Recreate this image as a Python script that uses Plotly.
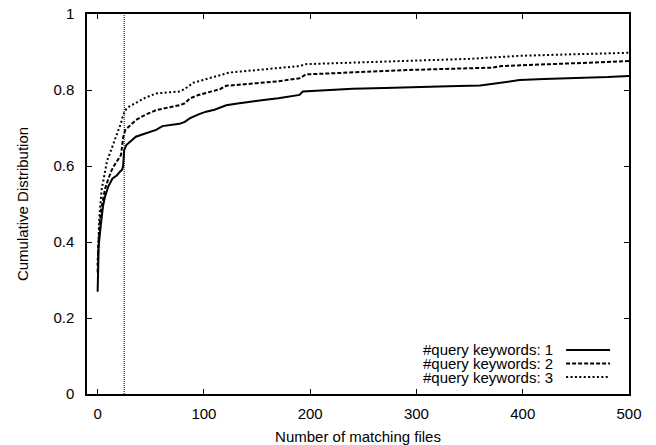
import plotly.graph_objects as go

# ---- data ----
series_names = ["#query keywords: 1", "#query keywords: 2", "#query keywords: 3"]

kw1_x = [0, 0.5, 1, 2.5, 5, 7, 10, 14, 18, 21, 23, 24, 25, 27, 30, 36, 42, 49, 55, 61,
         70, 77, 82, 87, 95, 102, 110, 115, 121, 130, 140, 150, 160, 170, 180, 190, 193, 200, 220, 240,
         270, 297, 330, 360, 372, 385, 397, 420, 450, 480, 500]
kw1_y = [0.269, 0.35, 0.39, 0.432, 0.493, 0.52, 0.546, 0.567, 0.575, 0.585,
         0.59, 0.60, 0.642, 0.655, 0.662, 0.677, 0.683, 0.690, 0.695, 0.705,
         0.708, 0.711, 0.716, 0.726, 0.736, 0.743, 0.748, 0.754, 0.760, 0.764,
         0.768, 0.772, 0.775, 0.778, 0.782, 0.787, 0.796, 0.797, 0.799, 0.803,
         0.805, 0.808, 0.810, 0.812, 0.816, 0.822, 0.826, 0.829, 0.831, 0.834, 0.837]

kw2_x = [0, 0.5, 2, 3.5, 5, 7, 9.7, 13, 16, 19, 22, 24, 26, 30, 36, 45, 55, 65, 77, 82,
         87, 95, 105, 115, 121, 135, 150, 170, 190, 196, 220, 240, 270, 297, 330, 372, 380, 420, 460, 500]
kw2_y = [0.32, 0.38, 0.45, 0.49, 0.51, 0.54, 0.563, 0.588, 0.603, 0.615,
         0.629, 0.675, 0.695, 0.705, 0.721, 0.735, 0.747, 0.753, 0.760, 0.765,
         0.778, 0.787, 0.795, 0.802, 0.811, 0.815, 0.818, 0.823, 0.831, 0.841,
         0.844, 0.848, 0.850, 0.853, 0.855, 0.859, 0.863, 0.867, 0.871, 0.876]

kw3_x = [0, 0.5, 1.5, 3.7, 6.8, 9, 11.5, 14, 18, 22, 24, 27, 30, 36, 45, 55, 65, 77, 82, 90,
         100, 115, 124, 140, 160, 190, 196, 240, 297, 350, 397, 450, 500]
kw3_y = [0.34, 0.40, 0.46, 0.537, 0.589, 0.615, 0.633, 0.651, 0.68, 0.713,
         0.734, 0.75, 0.757, 0.767, 0.78, 0.791, 0.793, 0.796, 0.803, 0.819,
         0.827, 0.839, 0.846, 0.850, 0.855, 0.863, 0.868, 0.872, 0.877, 0.882,
         0.890, 0.894, 0.898]

threshold_x = 25
x_ticks = [0, 100, 200, 300, 400, 500]
y_ticks = [0, 0.2, 0.4, 0.6, 0.8, 1]
y_tick_labels = ["0", "0.2", "0.4", "0.6", "0.8", "1"]

# ---- styling ----
FONT = "Liberation Sans, Arial, Helvetica, sans-serif"
FS = 15
dashes = ["solid", "4px,2px", "2px,2.4px"]
xs = [kw1_x, kw2_x, kw3_x]
ys = [kw1_y, kw2_y, kw3_y]

fig = go.Figure()
for name, x, y, d in zip(series_names, xs, ys, dashes):
    fig.add_trace(go.Scatter(x=x, y=y, mode="lines", name=name, showlegend=False,
                             line=dict(color="black", width=2, dash=d)))

fig.add_vline(x=threshold_x, line=dict(color="black", width=1, dash="1px,1px"))

# manual gnuplot-style legend (text, then line sample)
row_y = [0.1158, 0.0803, 0.0447]
for name, d, yy in zip(series_names, dashes, row_y):
    fig.add_annotation(xref="paper", yref="paper", x=0.8635, y=yy, text=name,
                       showarrow=False, xanchor="right", yanchor="middle",
                       font=dict(family=FONT, size=FS, color="black"))
    fig.add_shape(type="line", xref="paper", yref="paper", x0=0.884, x1=0.965,
                  y0=yy, y1=yy, line=dict(color="black", width=2, dash=d))

axis_common = dict(showgrid=False, zeroline=False, showline=True, linecolor="black",
                   linewidth=1.5, mirror="ticks", ticks="inside", ticklen=5,
                   tickcolor="black", tickwidth=1, automargin=False,
                   tickfont=dict(family=FONT, size=FS, color="black"))

fig.update_xaxes(range=[-10, 500], tickvals=x_ticks, ticklabelstandoff=5,
                 title=dict(text="Number of matching files", standoff=12,
                            font=dict(family=FONT, size=FS, color="black")),
                 **axis_common)
fig.update_yaxes(range=[0, 1], tickvals=y_ticks, ticktext=y_tick_labels, ticklabelstandoff=8,
                 title=dict(text="Cumulative Distribution", standoff=21,
                            font=dict(family=FONT, size=FS, color="black")),
                 **axis_common)

fig.update_layout(width=656, height=445, plot_bgcolor="white", paper_bgcolor="white",
                  margin=dict(l=87, r=27, t=14, b=51), showlegend=False)

fig.write_html("out.html")
